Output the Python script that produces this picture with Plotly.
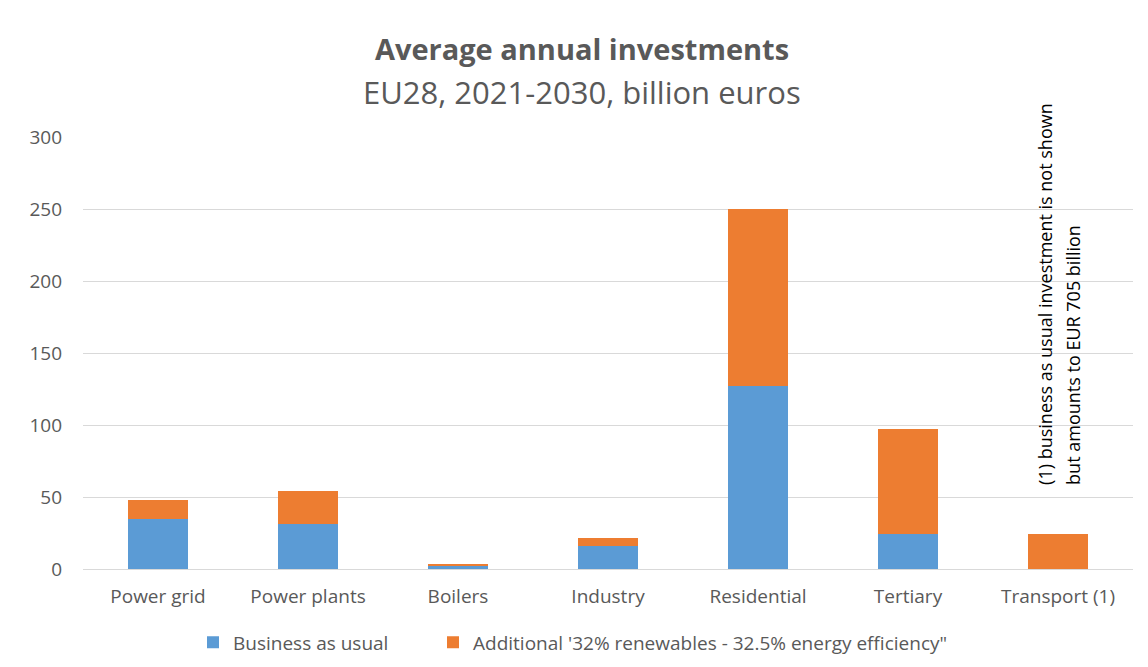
import plotly.graph_objects as go

categories = ["Power grid", "Power plants", "Boilers", "Industry", "Residential", "Tertiary", "Transport (1)"]
business_as_usual = [35, 31, 2, 16, 127, 24, 0]
additional = [13, 23, 1.5, 5.5, 123, 73, 24]
series_names = ["Business as usual", "Additional '32% renewables - 32.5% energy efficiency\""]
y_ticks = [0, 50, 100, 150, 200, 250, 300]
title_text = "Average annual investments"
subtitle_text = "EU28, 2021-2030, billion euros"
note_lines = ["(1) business as usual investment is not shown", "but amounts to EUR 705 billion"]

FONT = "Open Sans"
GREY = "#595959"

fig = go.Figure()
fig.add_trace(go.Bar(x=categories, y=business_as_usual, name=series_names[0],
                     marker=dict(color="#5B9BD5", line=dict(width=0)), legend="legend"))
fig.add_trace(go.Bar(x=categories, y=additional, name=series_names[1],
                     marker=dict(color="#ED7D31", line=dict(width=0)), legend="legend2"))

legend_common = dict(orientation="h", xanchor="left", y=-0.17, yanchor="middle",
                     font=dict(size=19, color=GREY), itemwidth=30, bgcolor="rgba(0,0,0,0)")

fig.update_layout(
    barmode="stack",
    bargap=0.6,
    width=1148, height=667,
    paper_bgcolor="white", plot_bgcolor="white",
    margin=dict(l=75, r=23, t=129, b=106),
    font=dict(family=FONT, color=GREY, size=19),
    title=dict(
        text="<b>" + title_text + "</b>",
        x=0.5, xanchor="center", y=1 - 42 / 667, yanchor="middle",
        font=dict(family=FONT, size=29, color=GREY),
    ),
    legend=dict(x=(193 - 83) / 1050, **legend_common),
    legend2=dict(x=(433 - 83) / 1050, **legend_common),
    showlegend=True,
)
fig.add_annotation(text=subtitle_text, xref="paper", yref="paper", x=(582 - 83) / 1050, y=(561 - 84) / 432,
                   xanchor="center", yanchor="middle", showarrow=False,
                   font=dict(family=FONT, size=31, color=GREY))

fig.update_xaxes(showgrid=False, showline=True, linecolor="#D9D9D9", linewidth=1,
                 tickfont=dict(size=19, color=GREY), ticks="", ticklabelstandoff=10)
fig.update_yaxes(range=[0, 300], tickvals=y_ticks, showgrid=True, gridcolor="#D9D9D9",
                 gridwidth=1, zeroline=False, tickfont=dict(size=19, color=GREY),
                 ticks="", ticklabelstandoff=20)

for line, shift in zip(note_lines, [-13, 15]):
    fig.add_annotation(
        x=categories[-1], y=57, xref="x", yref="y",
        text=line, textangle=-90, showarrow=False,
        xanchor="center", yanchor="bottom", xshift=shift,
        font=dict(family=FONT, size=18, color="black"),
    )

fig.write_html("out.html")
